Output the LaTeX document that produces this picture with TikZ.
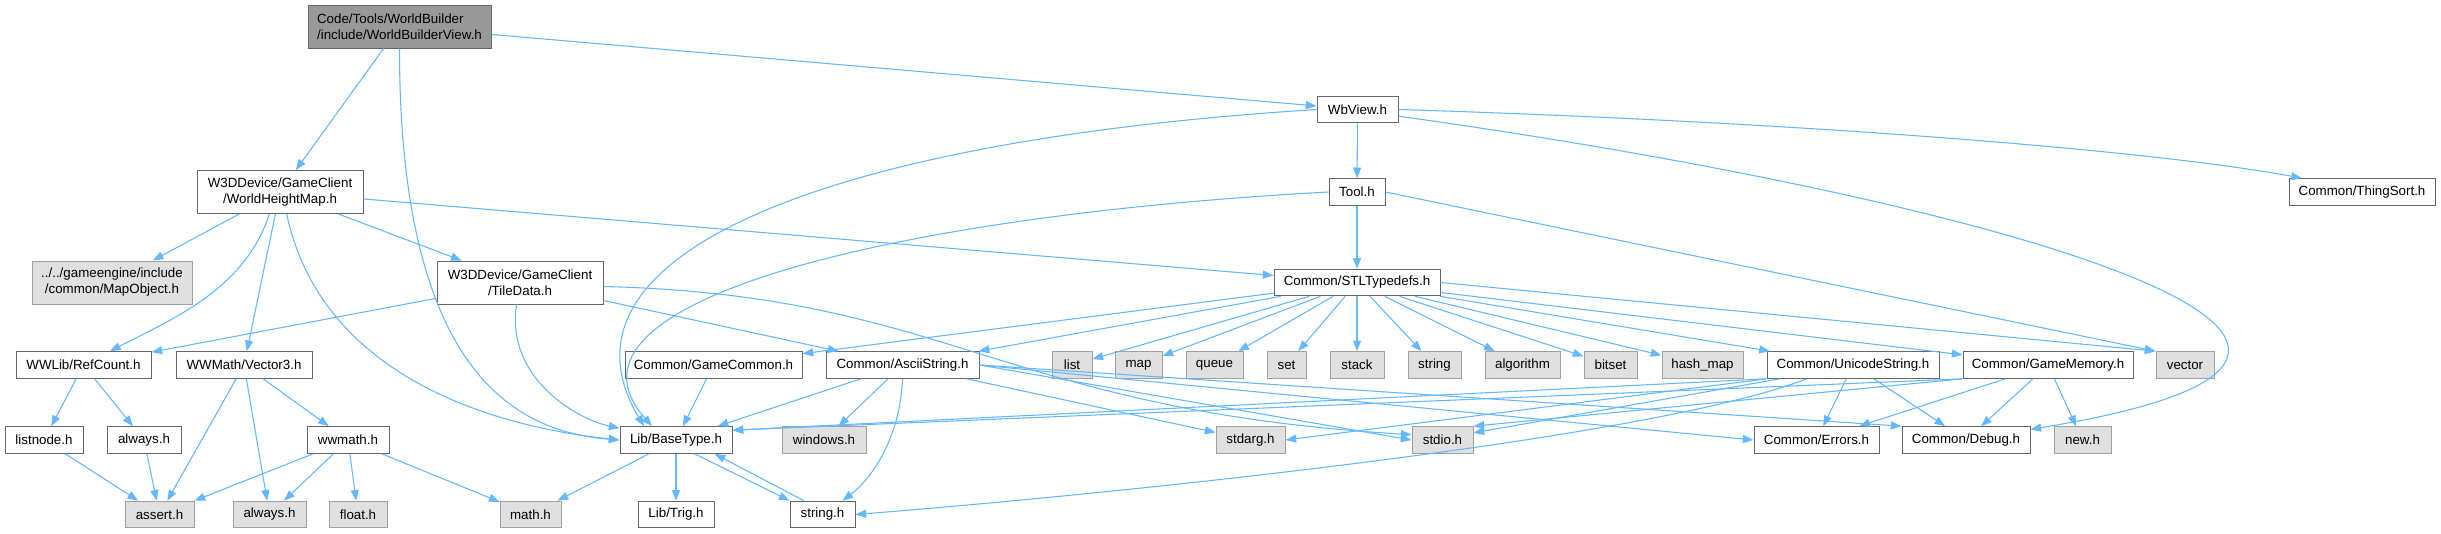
\documentclass[tikz,border=0pt]{standalone}
\usepackage{fontspec}
\setmainfont{Liberation Sans}
\usetikzlibrary{arrows.meta}
\definecolor{edgeblue}{HTML}{63B8FF}
\definecolor{boxline}{HTML}{666666}
\definecolor{extline}{HTML}{A0A0A0}
\definecolor{extfill}{HTML}{E0E0E0}
\definecolor{rootfill}{HTML}{999999}

\begin{document}
\begin{tikzpicture}[x=0.75pt,y=-0.75pt,
    file/.style={draw=boxline,fill=white,line width=0.75pt,inner sep=0pt,
      minimum height=20pt,align=center,font=\fontsize{10}{12}\selectfont},
    sysfile/.style={file,draw=extline,fill=extfill},
    rootfile/.style={file,fill=rootfill,align=left},
    twoline/.style={minimum height=32.25pt},
    boxw/.style={minimum width=#1*0.75pt},
    inc/.style={draw=edgeblue,line width=0.8pt,-{Triangle[length=8pt,width=6pt]}}]
  \fill[white] (0,0) rectangle (2441,533);
  \useasboundingbox (0,0) rectangle (2441,533);

  % upper part of the graph
  \node[rootfile,twoline,boxw=183] (wbv) at (399.5,26.5) {Code/Tools/WorldBuilder\\/include/WorldBuilderView.h};
  \node[file,boxw=81] (wbview) at (1357.5,109.5) {WbView.h};
  \node[file,twoline,boxw=166] (whm) at (280,192) {W3DDevice/GameClient\\/WorldHeightMap.h};
  \node[file,boxw=56] (tool) at (1357,192) {Tool.h};
  \node[file,boxw=146] (thingsort) at (2362,192) {Common/ThingSort.h};
  \node[sysfile,twoline,boxw=160] (mapobject) at (112,282.5) {../../gameengine/include\\/common/MapObject.h};
  \node[file,twoline,boxw=166] (tiledata) at (520,282.5) {W3DDevice/GameClient\\/TileData.h};
  \node[file,boxw=166] (stl) at (1357,282.5) {Common/STLTypedefs.h};

  % middle row
  \node[file,boxw=135] (refcount) at (83.5,365) {WWLib/RefCount.h};
  \node[file,boxw=136] (vector3) at (244,365) {WWMath/Vector3.h};
  \node[file,boxw=177] (gamecommon) at (713.5,365) {Common/GameCommon.h};
  \node[file,boxw=153] (ascii) at (902.5,365) {Common/AsciiString.h};
  \foreach \name/\x/\w/\txt in {list/1072/40/list, map/1138.5/47/map,
      queue/1214.5/57/queue, set/1286.5/39/set, stack/1357/54/stack,
      string/1434.5/53/string, algorithm/1522.5/75/algorithm,
      bitset/1610.5/53/bitset, hashmap/1702.5/81/hash\_map, vector/2185/58/vector}
    \node[sysfile,boxw=\w] (\name) at (\x,365) {\txt};
  \node[file,boxw=172] (unicode) at (1853,365) {Common/UnicodeString.h};
  \node[file,boxw=170] (gamememory) at (2048,365) {Common/GameMemory.h};

  % lower row
  \node[file,boxw=78] (listnode) at (44,440) {listnode.h};
  \node[file,boxw=74] (always) at (144,440) {always.h};
  \node[file,boxw=82] (wwmath) at (348,440) {wwmath.h};
  \node[file,boxw=112] (basetype) at (676,440) {Lib/BaseType.h};
  \node[sysfile,boxw=84] (windows) at (824,440) {windows.h};
  \node[sysfile,boxw=69] (stdarg) at (1250.5,440) {stdarg.h};
  \node[sysfile,boxw=61] (stdio) at (1442.5,440) {stdio.h};
  \node[file,boxw=125] (errors) at (1816.5,440) {Common/Errors.h};
  \node[file,boxw=128] (debug) at (1966,440) {Common/Debug.h};
  \node[sysfile,boxw=57] (newh) at (2082.5,440) {new.h};

  % bottom row
  \node[sysfile,boxw=69] (assert) at (159.5,514.5) {assert.h};
  \node[sysfile,boxw=73] (alwayssys) at (269.5,514.5) {always.h};
  \node[sysfile,boxw=58] (float) at (358,514.5) {float.h};
  \node[sysfile,boxw=61] (math) at (530.5,514.5) {math.h};
  \node[file,boxw=76] (trig) at (676,514.5) {Lib/Trig.h};
  \node[file,boxw=65] (stringh) at (822.5,514.5) {string.h};

  % includes of the root file
  \draw[inc] (wbv) -- (whm);
  \draw[inc] (wbv) -- (wbview);
  \draw[inc] (wbv.south) .. controls (399.5,378) and (520,432) .. (basetype.west);

  % WorldHeightMap.h
  \draw[inc] (whm) -- (mapobject);
  \draw[inc] (whm) -- (tiledata);
  \draw[inc] (whm) -- (vector3);
  \draw[inc] (whm) -- (stl);
  \draw[inc] ([xshift=-8pt]whm.south) .. controls (245,290) and (170,320) .. (refcount);
  \draw[inc] ([xshift=5pt]whm.south) .. controls (320,370) and (480,425) .. (basetype.west);

  % TileData.h
  \draw[inc] (tiledata) -- (refcount);
  \draw[inc] (tiledata) -- (ascii);
  \draw[inc] (tiledata) .. controls (505,380) and (580,420) .. (basetype);
  \draw[inc] ([yshift=-3pt]tiledata.east) .. controls (950,295) and (1000,410) .. ([yshift=4pt]stdio.west);

  % WbView.h and Tool.h
  \draw[inc] (wbview) -- (tool);
  \draw[inc] (wbview.east) .. controls (1800,122) and (2150,150) .. ([xshift=10pt]thingsort.north west);
  \draw[inc] ([yshift=-5pt]wbview.east) .. controls (2000,200) and (2520,350) .. ([yshift=8pt]debug.east);
  \draw[inc] (wbview.west) .. controls (817,141) and (543,257) .. ([xshift=-24pt]basetype.north);
  \draw[inc] (tool) -- (stl);
  \draw[inc] (tool.east) -- (vector.north west);
  \draw[inc] (tool.west) .. controls (900,215) and (540,300) .. ([xshift=-18pt]basetype.north);

  % Common/STLTypedefs.h
  \foreach \name in {gamecommon,ascii,list,map,queue,set,stack,string,
      algorithm,bitset,hashmap,unicode,gamememory}
    \draw[inc] (stl) -- (\name);
  \draw[inc] (stl.east) -- (vector.north west);

  % Common/AsciiString.h
  \draw[inc] (ascii) -- (basetype);
  \draw[inc] (ascii) -- (windows);
  \draw[inc] (ascii) -- (stdarg);
  \draw[inc] (ascii.east) -- (stdio.west);
  \draw[inc] (ascii.east) -- (errors.west);
  \draw[inc] (ascii.east) -- (debug.north west);
  \draw[inc] (ascii.south) .. controls (900,440) and (870,480) .. ([xshift=15pt]stringh.north);

  % Common/UnicodeString.h and Common/GameMemory.h
  \draw[inc] (unicode.south west) -- ([yshift=-3pt]basetype.north east);
  \draw[inc] (unicode.south west) -- (stdarg.east);
  \draw[inc] ([xshift=10pt]unicode.south west) -- ([yshift=-5pt]stdio.north east);
  \draw[inc] ([xshift=30pt]unicode.south west) .. controls (1650,440) and (1100,495) .. (stringh.east);
  \draw[inc] (unicode) -- (errors);
  \draw[inc] (unicode) -- (debug);
  \draw[inc] (gamememory.south west) -- ([yshift=-3pt]basetype.north east);
  \draw[inc] (gamememory.south west) -- (stdio.north east);
  \draw[inc] (gamememory) -- (errors);
  \draw[inc] (gamememory) -- (debug);
  \draw[inc] (gamememory) -- (newh);
  \draw[inc] (gamecommon) -- (basetype);

  % Lib/BaseType.h
  \draw[inc] (basetype) -- (math);
  \draw[inc] (basetype) -- (trig);
  \draw[inc] ([xshift=14pt]basetype.south) -- (stringh.north west);
  \draw[inc] ([xshift=-14pt]stringh.north) -- ([xshift=29pt]basetype.south);

  % WWLib and WWMath
  \draw[inc] (refcount) -- (listnode);
  \draw[inc] (refcount) -- (always);
  \draw[inc] (listnode) -- (assert);
  \draw[inc] (always) -- (assert);
  \draw[inc] (vector3) -- (assert);
  \draw[inc] (vector3) -- (alwayssys);
  \draw[inc] (vector3) -- (wwmath);
  \draw[inc] (wwmath) -- (assert);
  \draw[inc] (wwmath) -- (alwayssys);
  \draw[inc] (wwmath) -- (float);
  \draw[inc] (wwmath) -- (math);
\end{tikzpicture}
\end{document}
